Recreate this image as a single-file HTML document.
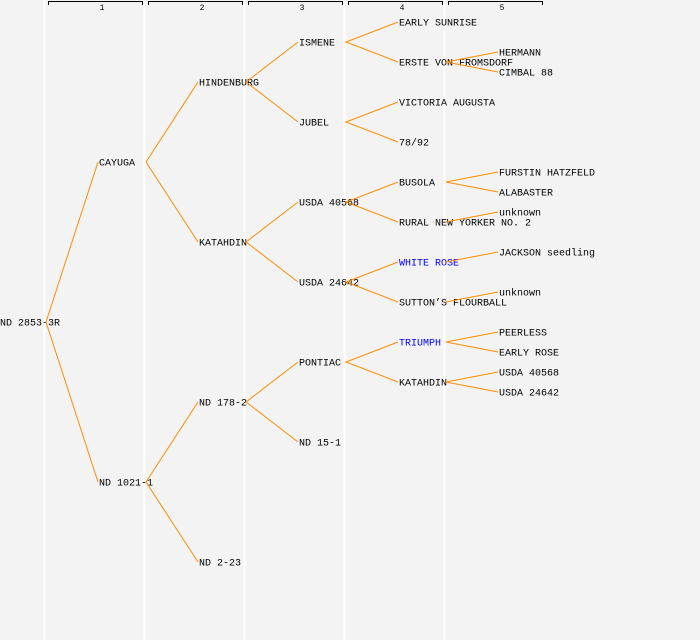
<!DOCTYPE html>
<html><head><meta charset="utf-8"><style>
html,body{margin:0;padding:0;background:#f3f3f3}
svg{display:block}
text{font-family:"Liberation Mono","DejaVu Sans Mono",monospace;font-size:10px;fill:#000;dominant-baseline:middle}
.b{fill:#0000ff}
.h{font-size:8px;text-anchor:middle}
</style></head><body>
<svg width="700" height="640" viewBox="0 0 700 640" xmlns="http://www.w3.org/2000/svg">
<rect width="700" height="640" fill="#f3f3f3"/>
<g stroke="#fff" stroke-width="2">
<line x1="44.5" y1="0" x2="44.5" y2="640"/><line x1="144.5" y1="0" x2="144.5" y2="640"/><line x1="244.5" y1="0" x2="244.5" y2="640"/><line x1="344.5" y1="0" x2="344.5" y2="640"/><line x1="444.5" y1="0" x2="444.5" y2="640"/>
</g>
<g stroke="#000" stroke-width="1" fill="none">
<path d="M48.5 5V1.5H142.5V5"/><path d="M148.5 5V1.5H242.5V5"/><path d="M248.5 5V1.5H342.5V5"/><path d="M348.5 5V1.5H442.5V5"/><path d="M448.5 5V1.5H542.5V5"/>
</g>
<text class="h" x="102" y="8">1</text><text class="h" x="202" y="8">2</text><text class="h" x="302" y="8">3</text><text class="h" x="402" y="8">4</text><text class="h" x="502" y="8">5</text>
<g transform="translate(0,1)">
<text x="0" y="322">ND 2853-3R</text>
<text x="99" y="162">CAYUGA</text><text x="99" y="482">ND 1021-1</text>
<text x="199" y="82">HINDENBURG</text><text x="199" y="242">KATAHDIN</text><text x="199" y="402">ND 178-2</text><text x="199" y="562">ND 2-23</text>
<text x="299" y="42">ISMENE</text><text x="299" y="122">JUBEL</text><text x="299" y="202">USDA 40568</text><text x="299" y="282">USDA 24642</text><text x="299" y="362">PONTIAC</text><text x="299" y="442">ND 15-1</text>
<text x="399" y="22">EARLY SUNRISE</text><text x="399" y="62">ERSTE VON FROMSDORF</text><text x="399" y="102">VICTORIA AUGUSTA</text><text x="399" y="142">78/92</text><text x="399" y="182">BUSOLA</text><text x="399" y="222">RURAL NEW YORKER NO. 2</text><text class="b" x="399" y="262">WHITE ROSE</text><text x="399" y="302">SUTTON’S FLOURBALL</text><text class="b" x="399" y="342">TRIUMPH</text><text x="399" y="382">KATAHDIN</text>
<text x="499" y="52">HERMANN</text><text x="499" y="72">CIMBAL 88</text><text x="499" y="172">FURSTIN HATZFELD</text><text x="499" y="192">ALABASTER</text><text x="499" y="212">unknown</text><text x="499" y="252">JACKSON seedling</text><text x="499" y="292">unknown</text><text x="499" y="332">PEERLESS</text><text x="499" y="352">EARLY ROSE</text><text x="499" y="372">USDA 40568</text><text x="499" y="392">USDA 24642</text>
</g>
<g stroke="#ff8c00" stroke-width="1" fill="none">
<path d="M98 162L46 322L98 482"/>
<path d="M198 82L146 162L198 242"/><path d="M198 402L146 482L198 562"/>
<path d="M298 42L246 82L298 122"/><path d="M298 202L246 242L298 282"/><path d="M298 362L246 402L298 442"/>
<path d="M398 22L346 42L398 62"/><path d="M398 102L346 122L398 142"/><path d="M398 182L346 202L398 222"/><path d="M398 262L346 282L398 302"/><path d="M398 342L346 362L398 382"/>
<path d="M498 52L446 62L498 72"/><path d="M498 172L446 182L498 192"/><path d="M498 212L446 222"/><path d="M498 252L446 262"/><path d="M498 292L446 302"/><path d="M498 332L446 342L498 352"/><path d="M498 372L446 382L498 392"/>
</g>
</svg>
</body></html>
